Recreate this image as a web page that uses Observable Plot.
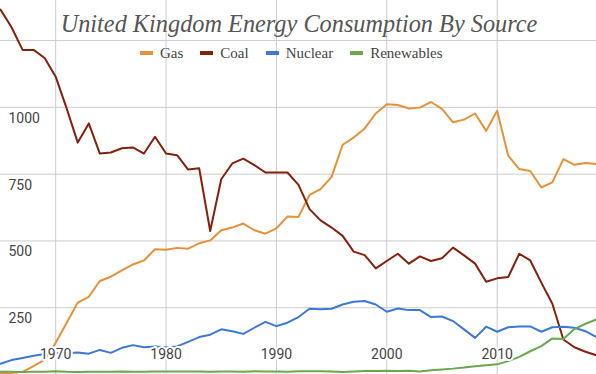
<!DOCTYPE html>
<html>
<head>
<meta charset="utf-8">
<script src="https://cdn.jsdelivr.net/npm/d3@7"></script>
<script src="https://cdn.jsdelivr.net/npm/@observablehq/plot@0.6"></script>
<style>
  html, body { margin: 0; padding: 0; background: white; }
  #wrap { position: relative; width: 596px; height: 374px; overflow: hidden; }
  #title { position: absolute; left: 1px; top: 10.5px; width: 596px; text-align: center;
    font-family: "Liberation Serif", "Times New Roman", serif; font-style: italic;
    font-size: 24.3px; line-height: 26px; color: #555; white-space: nowrap; }
  #legend { position: absolute; left: 140px; top: 45px; display: flex; align-items: center;
    font-family: "Liberation Serif", "Times New Roman", serif; font-size: 15px; line-height: 16px; color: #444; }
  .item { display: flex; align-items: center; margin-right: 17px; }
  .sw { width: 13px; height: 4px; margin-right: 7px; }
  svg { display: block; }
</style>
</head>
<body>
<div id="wrap">
  <div id="chart"></div>
  <div id="title">United Kingdom Energy Consumption By Source</div>
  <div id="legend"></div>
</div>
<script>
const years = [1965,1966,1967,1968,1969,1970,1971,1972,1973,1974,1975,1976,1977,1978,1979,
  1980,1981,1982,1983,1984,1985,1986,1987,1988,1989,1990,1991,1992,1993,1994,1995,1996,1997,1998,1999,
  2000,2001,2002,2003,2004,2005,2006,2007,2008,2009,2010,2011,2012,2013,2014,2015,2016,2017,2018,2019];

const gas = [4,6,10,31,56,119,194,269,291,350,366,390,412,427,469,
  467,474,471,491,502,540,550,565,540,527,547,591,590,672,694,740,860,887,921,977,
  1012,1009,996,999,1020,994,944,954,977,912,987,819,769,762,700,719,806,785,792,788];

const coal = [1366,1300,1215,1215,1185,1115,995,868,940,827,831,847,850,827,890,
  827,821,767,772,537,731,790,808,784,756,756,756,710,619,577,550,519,460,447,397,
  425,452,415,442,425,435,475,446,415,347,360,365,452,427,344,265,131,102,85,72];

const nuclear = [40,54,62,70,77,80,80,82,78,92,81,100,110,102,105,
  102,105,122,140,149,169,162,152,175,197,181,194,215,246,244,246,262,272,275,262,
  235,247,241,241,215,217,200,169,137,179,160,177,180,180,160,177,179,175,162,140];

const renewables = [10,10,9,10,10,12,10,9,10,10,10,11,10,10,11,
  11,11,11,11,10,11,11,10,12,11,11,10,12,12,12,11,9,11,13,13,
  14,13,14,11,16,19,22,26,31,35,38,50,66,87,106,135,133,170,190,206];

const seriesNames = ["Gas", "Coal", "Nuclear", "Renewables"];
const seriesColors = ["#e69138", "#85200c", "#3c78d8", "#6aa84f"];
const xTicks = [1970, 1980, 1990, 2000, 2010];
const yGrid = [250, 500, 750, 1000, 1250];
const yLabels = [250, 500, 750, 1000];

const seriesValues = [gas, coal, nuclear, renewables];
const rows = (vals) => years.map((yr, i) => ({year: yr, value: vals[i]}));

const labelStyle = {fill: "#444", stroke: "white", strokeWidth: 4, fontSize: 14, fontFamily: "Roboto, sans-serif"};

const chart = Plot.plot({
  width: 596,
  height: 374,
  margin: 0,
  x: {domain: [1965, 2019], axis: null},
  y: {domain: [0, 1400], axis: null},
  style: {background: "white"},
  marks: [
    Plot.gridX(xTicks, {stroke: "#ccc", strokeOpacity: 1, strokeWidth: 1}),
    Plot.gridY(yGrid, {stroke: "#ccc", strokeOpacity: 1, strokeWidth: 1}),
    ...seriesValues.map((vals, k) => Plot.line(rows(vals), {x: "year", y: "value", stroke: seriesColors[k], strokeWidth: 2})),
    Plot.text(yLabels, {y: d => d, frameAnchor: "left", dx: 8, dy: 11, textAnchor: "start", text: d => String(d), ...labelStyle}),
    Plot.text(xTicks, {x: d => d, frameAnchor: "bottom", dy: -16, text: d => String(d), ...labelStyle})
  ]
});
document.getElementById("chart").appendChild(chart);

const legend = document.getElementById("legend");
seriesNames.forEach((name, k) => {
  const item = document.createElement("div");
  item.className = "item";
  const sw = document.createElement("div");
  sw.className = "sw";
  sw.style.background = seriesColors[k];
  const t = document.createElement("span");
  t.textContent = name;
  item.appendChild(sw);
  item.appendChild(t);
  legend.appendChild(item);
});
</script>
</body>
</html>
